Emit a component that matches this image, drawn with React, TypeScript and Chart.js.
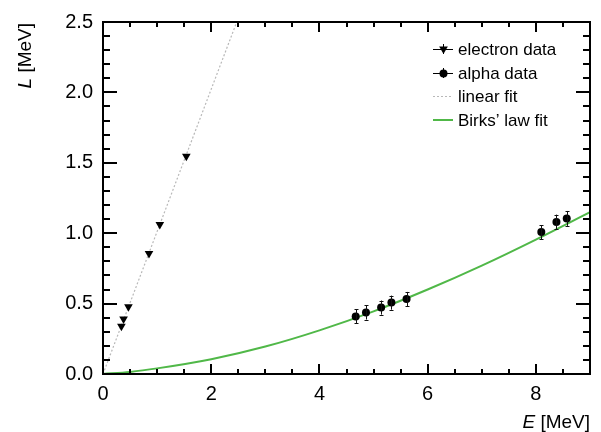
import React, { useEffect, useRef } from 'react';
import { Chart, registerables } from 'chart.js';

Chart.register(...registerables);

// ---- data ----
const electronE = [0.34, 0.38, 0.47, 0.85, 1.05, 1.54];
const electronL = [0.34, 0.39, 0.477, 0.856, 1.061, 1.547];

const alphaE = [4.67, 4.86, 5.14, 5.33, 5.61, 8.1, 8.38, 8.57];
const alphaL = [0.409, 0.437, 0.472, 0.507, 0.533, 1.008, 1.08, 1.105];
const alphaErr = [0.05, 0.05, 0.05, 0.05, 0.05, 0.05, 0.052, 0.053];

const linearFitE = [0, 2.6];
const linearFitL = [0, 2.63];

const birksE = [0, 0.5, 1, 2, 3, 4, 5, 6, 7, 8, 9];
const birksL = [0, 0.015, 0.04, 0.105, 0.195, 0.31, 0.445, 0.6, 0.77, 0.955, 1.15];

const xTicks = [0, 2, 4, 6, 8];
const yTicks = [0, 0.5, 1, 1.5, 2, 2.5];

const legendLabels = ['electron data', 'alpha data', 'linear fit', 'Birks\u2019 law fit'];

const GREEN = '#50b848';
const GREY = '#b8b8b8';
const FONT = '"Liberation Sans", Arial, Helvetica, sans-serif';
const FS = 17; // legend
const TFS = 20; // tick labels
const AFS = 19; // axis titles

const toPts = (xs: number[], ys: number[]) => xs.map((x, i) => ({ x, y: ys[i] }));

const errorBars = {
  id: 'errorBars',
  afterDatasetsDraw(chart: any) {
    const { ctx, scales } = chart;
    const x = scales.x;
    const y = scales.y;
    ctx.save();
    ctx.strokeStyle = '#111';
    ctx.lineWidth = 1;
    alphaE.forEach((e, i) => {
      const px = Math.round(x.getPixelForValue(e)) + 0.5;
      const top = y.getPixelForValue(alphaL[i] + alphaErr[i]);
      const bot = y.getPixelForValue(alphaL[i] - alphaErr[i]);
      ctx.beginPath();
      ctx.moveTo(px, top);
      ctx.lineTo(px, bot);
      ctx.moveTo(px - 2, Math.round(top) + 0.5);
      ctx.lineTo(px + 2, Math.round(top) + 0.5);
      ctx.moveTo(px - 2, Math.round(bot) + 0.5);
      ctx.lineTo(px + 2, Math.round(bot) + 0.5);
      ctx.stroke();
    });
    ctx.restore();
  },
};

const rootFrame = {
  id: 'rootFrame',
  afterDraw(chart: any) {
    const { ctx, chartArea: a, scales } = chart;
    const x = scales.x;
    const y = scales.y;
    ctx.save();
    ctx.strokeStyle = '#000';
    ctx.lineWidth = 2;
    ctx.lineCap = 'butt';
    ctx.strokeRect(a.left, a.top, a.right - a.left, a.bottom - a.top);
    ctx.beginPath();
    // x ticks every 0.5, major every 2
    for (let k = 0; k <= 18; k++) {
      const v = k * 0.5;
      const px = Math.round(x.getPixelForValue(v));
      const len = k % 4 === 0 ? 10 : 5;
      ctx.moveTo(px, a.bottom);
      ctx.lineTo(px, a.bottom - len);
      ctx.moveTo(px, a.top);
      ctx.lineTo(px, a.top + len);
    }
    // y ticks every 0.1, major every 0.5
    for (let k = 0; k <= 25; k++) {
      const v = k * 0.1;
      const py = Math.round(y.getPixelForValue(v));
      const len = k % 5 === 0 ? 14 : 7;
      ctx.moveTo(a.left, py);
      ctx.lineTo(a.left + len, py);
      ctx.moveTo(a.right, py);
      ctx.lineTo(a.right - len, py);
    }
    ctx.stroke();

    // axis titles
    ctx.fillStyle = '#000';
    ctx.textBaseline = 'alphabetic';
    ctx.font = `italic ${AFS}px ${FONT}`;
    const wE = ctx.measureText('E').width;
    ctx.font = `${AFS}px ${FONT}`;
    const wRest = ctx.measureText(' [MeV]').width;
    const sx = a.right - wE - wRest;
    ctx.font = `italic ${AFS}px ${FONT}`;
    ctx.fillText('E', sx, 428);
    ctx.font = `${AFS}px ${FONT}`;
    ctx.fillText(' [MeV]', sx + wE, 428);

    ctx.save();
    ctx.translate(31, a.top + 1);
    ctx.rotate(-Math.PI / 2);
    ctx.font = `italic ${AFS}px ${FONT}`;
    const wL = ctx.measureText('L').width;
    ctx.font = `${AFS}px ${FONT}`;
    const wR2 = ctx.measureText(' [MeV]').width;
    const start = -(wL + wR2);
    ctx.font = `italic ${AFS}px ${FONT}`;
    ctx.fillText('L', start, 0);
    ctx.font = `${AFS}px ${FONT}`;
    ctx.fillText(' [MeV]', start + wL, 0);
    ctx.restore();

    // legend
    const x0 = 433;
    const x1 = 453;
    const xc = (x0 + x1) / 2;
    const tx = 458;
    const rows = [49, 72.6, 96.2, 119.8];
    ctx.font = `${FS}px ${FONT}`;
    ctx.textBaseline = 'middle';
    ctx.textAlign = 'left';
    legendLabels.forEach((lab, i) => {
      const ry = Math.round(rows[i]);
      ctx.save();
      if (i === 0 || i === 1) {
        ctx.strokeStyle = '#000';
        ctx.lineWidth = 1;
        ctx.beginPath();
        ctx.moveTo(x0, ry + 0.5);
        ctx.lineTo(x1, ry + 0.5);
        ctx.moveTo(xc + 0.5, ry - 5);
        ctx.lineTo(xc + 0.5, ry + 5);
        ctx.stroke();
        ctx.fillStyle = '#000';
        ctx.beginPath();
        if (i === 0) {
          const r = 5;
          ctx.moveTo(xc + 0.5, ry + r);
          ctx.lineTo(xc + 0.5 - r * 0.866, ry - r / 2);
          ctx.lineTo(xc + 0.5 + r * 0.866, ry - r / 2);
          ctx.closePath();
        } else {
          ctx.arc(xc + 0.5, ry + 0.5, 4, 0, Math.PI * 2);
        }
        ctx.fill();
      } else if (i === 2) {
        ctx.strokeStyle = GREY;
        ctx.lineWidth = 1.2;
        ctx.setLineDash([2, 2]);
        ctx.beginPath();
        ctx.moveTo(x0, ry + 0.5);
        ctx.lineTo(x1, ry + 0.5);
        ctx.stroke();
      } else {
        ctx.strokeStyle = GREEN;
        ctx.lineWidth = 2;
        ctx.beginPath();
        ctx.moveTo(x0, ry);
        ctx.lineTo(x1, ry);
        ctx.stroke();
      }
      ctx.restore();
      ctx.fillStyle = '#000';
      ctx.fillText(lab, tx, ry + 1);
    });
    ctx.restore();
  },
};

export default function App() {
  const ref = useRef<HTMLCanvasElement>(null);

  useEffect(() => {
    if (!ref.current) return;
    const chart = new Chart(ref.current, {
      type: 'scatter',
      data: {
        datasets: [
          {
            label: 'alpha data',
            data: toPts(alphaE, alphaL),
            pointStyle: 'circle',
            pointRadius: 4,
            backgroundColor: '#000',
            borderColor: '#000',
            borderWidth: 0,
            showLine: false,
            order: 0,
          },
          {
            label: 'electron data',
            data: toPts(electronE, electronL),
            pointStyle: 'triangle',
            rotation: 180,
            pointRadius: 5,
            backgroundColor: '#000',
            borderColor: '#000',
            borderWidth: 0,
            showLine: false,
            order: 1,
          },
          {
            label: 'Birks\u2019 law fit',
            data: toPts(birksE, birksL),
            showLine: true,
            pointRadius: 0,
            borderColor: GREEN,
            borderWidth: 2,
            cubicInterpolationMode: 'monotone',
            fill: false,
            order: 2,
          },
          {
            label: 'linear fit',
            data: toPts(linearFitE, linearFitL),
            showLine: true,
            pointRadius: 0,
            borderColor: GREY,
            borderWidth: 1.2,
            borderDash: [2, 2],
            fill: false,
            order: 3,
          },
        ],
      } as any,
      options: {
        animation: false,
        responsive: false,
        devicePixelRatio: 1,
        layout: { padding: { left: 0, right: 11, top: 16, bottom: 0 } },
        plugins: { legend: { display: false }, tooltip: { enabled: false } },
        scales: {
          x: {
            type: 'linear',
            min: 0,
            max: 9,
            grid: { display: false, drawTicks: false },
            border: { display: false },
            ticks: {
              color: '#000',
              font: { family: FONT, size: TFS },
              padding: 8,
              maxRotation: 0,
              callback: (v: any) => String(v),
            },
            afterBuildTicks: (s: any) => {
              s.ticks = xTicks.map((v) => ({ value: v }));
            },
            afterFit: (s: any) => {
              s.height = 58;
            },
          },
          y: {
            type: 'linear',
            min: 0,
            max: 2.5,
            grid: { display: false, drawTicks: false },
            border: { display: false },
            ticks: {
              color: '#000',
              font: { family: FONT, size: TFS },
              padding: 10,
              callback: (v: any) => Number(v).toFixed(1),
            },
            afterBuildTicks: (s: any) => {
              s.ticks = yTicks.map((v) => ({ value: v }));
            },
            afterFit: (s: any) => {
              s.width = 103;
            },
          },
        },
      } as any,
      plugins: [errorBars, rootFrame],
    });
    return () => chart.destroy();
  }, []);

  return (
    <div style={{ position: 'absolute', left: 0, top: 0, width: 601, height: 432, background: '#fff' }}>
      <canvas ref={ref} width={601} height={432} style={{ display: 'block' }} />
    </div>
  );
}
